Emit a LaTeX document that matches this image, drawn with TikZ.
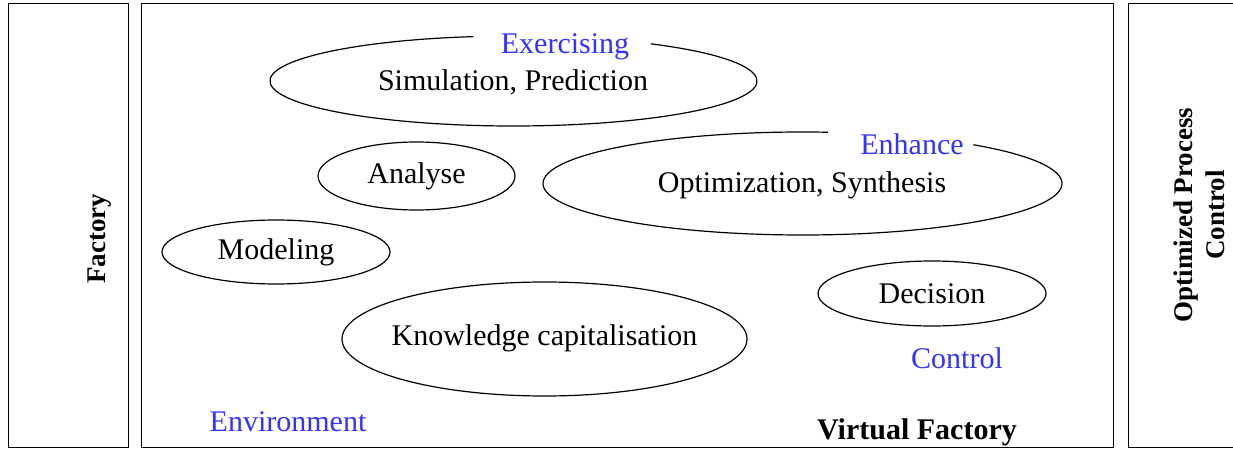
\documentclass[tikz,border=0pt]{standalone}
\usepackage{fontspec}
\setmainfont{Liberation Serif}
\usetikzlibrary{shapes.geometric}
\definecolor{lblue}{RGB}{51,51,255}
\tikzset{
  frame/.style={draw, line width=1.3pt},
  txt/.style={font=\fontsize{30}{34}\selectfont, inner sep=0pt},
  ell/.style={ellipse, draw, line width=1.2pt, inner sep=0pt, font=\fontsize{30}{34}\selectfont},
  gell/.style={ellipse, draw=none, inner sep=0pt},
  garc/.style={line width=1.2pt},
  blab/.style={text=lblue, font=\fontsize{30}{34}\selectfont, inner sep=0pt},
  bold/.style={font=\bfseries\fontsize{30}{34}\selectfont, inner sep=0pt},
  vbold/.style={font=\bfseries\fontsize{27}{32}\selectfont, inner sep=0pt, rotate=90, align=center}
}
\begin{document}
\begin{tikzpicture}[x=1pt,y=1pt]
\useasboundingbox (0,0) rectangle (1233,450);
% frames (y = 450 - py)
\node[frame, minimum width=120pt, minimum height=444pt, inner sep=0pt, anchor=south west] (fac) at (8,2) {};
\node[frame, minimum width=972pt, minimum height=444pt, inner sep=0pt, anchor=south west] (vf) at (141,2) {};
\node[frame, minimum width=120pt, minimum height=444pt, inner sep=0pt, anchor=south west] (opc) at (1128,2) {};
\node[vbold] (factxt) at (100,211) {Factory};
\node[vbold] (opctxt) at (1199,235) {Optimized Process\\Control};
% ellipses
\node[gell, minimum width=487pt, minimum height=90pt] (sim) at (513.5,369) {};
\node[txt] (simtxt) at (513,368) {Simulation, Prediction};
\draw[garc] ([shift={(99.5:243.5pt and 45pt)}]sim.center) arc[start angle=99.5, end angle=415.7, x radius=243.5pt, y radius=45pt];
\node[blab] (ex) at (565,403) {Exercising};
\node[ell, minimum width=197pt, minimum height=68pt] (ana) at (416.5,274) {Analyse};
\node[gell, minimum width=519pt, minimum height=103pt] (opt) at (802.5,266.5) {};
\node[txt] (opttxt) at (802,265) {Optimization, Synthesis};
\draw[garc] ([shift={(84.4:259.5pt and 51.5pt)}]opt.center) arc[start angle=84.4, end angle=408.8, x radius=259.5pt, y radius=51.5pt];
\node[blab] (enh) at (912,306) {Enhance};
\node[ell, minimum width=228pt, minimum height=64pt] (mod) at (276,198) {Modeling};
\node[ell, minimum width=405pt, minimum height=114pt] (kc) at (544.5,111) {};
\node[txt] (kctxt) at (544.5,112) {Knowledge capitalisation};
\node[ell, minimum width=228pt, minimum height=65pt] (dec) at (932,156.5) {Decision};
\node[blab] (ctl) at (957,92) {Control};
\node[blab] (env) at (288,28) {Environment};
\node[bold] (vftxt) at (917,18) {Virtual Factory};
\end{tikzpicture}
\end{document}
